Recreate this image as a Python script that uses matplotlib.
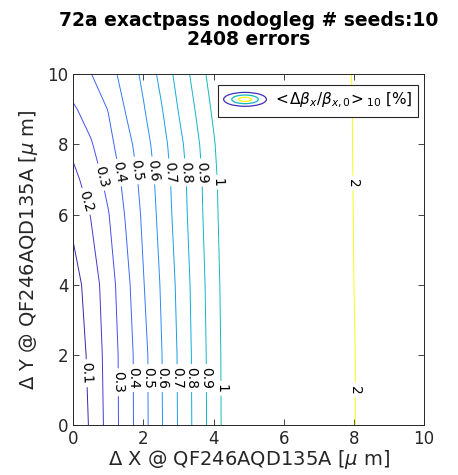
import numpy as np
import matplotlib
matplotlib.use("Agg")
import matplotlib.pyplot as plt
from matplotlib.colors import LinearSegmentedColormap
from matplotlib.legend_handler import HandlerBase
from matplotlib.patches import Ellipse
from matplotlib.lines import Line2D


# grille des offsets (micron) et valeurs (beta-beating moyen en %)
x_pos = [0, 0.5, 1, 1.5, 2, 2.5, 3, 3.5, 4, 4.5, 5, 6, 7, 8, 9, 10]
y_pos = [0, 2, 4, 6, 7, 8, 9, 10]
beat = [
    [0.000, 0.116, 0.233, 0.349, 0.467, 0.590, 0.707, 0.830, 0.947, 1.071, 1.200, 1.466, 1.730, 1.990, 2.250, 2.510],
    [0.014, 0.132, 0.236, 0.351, 0.469, 0.593, 0.710, 0.833, 0.949, 1.073, 1.204, 1.466, 1.730, 1.990, 2.250, 2.510],
    [0.057, 0.148, 0.252, 0.370, 0.495, 0.607, 0.722, 0.841, 0.956, 1.080, 1.210, 1.475, 1.740, 2.000, 2.260, 2.520],
    [0.128, 0.204, 0.295, 0.409, 0.518, 0.630, 0.743, 0.857, 0.968, 1.094, 1.225, 1.486, 1.746, 2.005, 2.270, 2.530],
    [0.174, 0.246, 0.330, 0.431, 0.534, 0.640, 0.751, 0.862, 0.974, 1.100, 1.231, 1.490, 1.750, 2.008, 2.270, 2.530],
    [0.227, 0.291, 0.370, 0.464, 0.559, 0.658, 0.770, 0.877, 0.989, 1.115, 1.243, 1.499, 1.755, 2.010, 2.270, 2.530],
    [0.288, 0.341, 0.404, 0.507, 0.592, 0.690, 0.804, 0.907, 1.018, 1.142, 1.266, 1.515, 1.764, 2.012, 2.260, 2.510],
    [0.355, 0.397, 0.464, 0.537, 0.622, 0.727, 0.835, 0.938, 1.048, 1.169, 1.290, 1.532, 1.775, 2.017, 2.260, 2.500],
]
niveaux = [0.1, 0.2, 0.3, 0.4, 0.5, 0.6, 0.7, 0.8, 0.9, 1, 2]

# positions des etiquettes (comme sur l'original)
pos_labels = [
    (0.27, 6.35), (0.81, 7.07), (1.33, 7.2), (1.84, 7.26), (2.32, 7.26), (2.75, 7.2),
    (3.18, 7.2), (3.69, 7.2), (4.06, 6.92), (8.0, 6.9),
    (0.41, 1.48), (1.31, 1.22), (1.70, 1.34), (2.13, 1.34), (2.55, 1.34), (2.97, 1.34),
    (3.38, 1.34), (3.80, 1.34), (4.22, 1.05), (8.04, 1.0),
]

titre = "72a exactpass nodogleg # seeds:10\n2408 errors"
label_x = r"$\Delta$ X @ QF246AQD135A [$\mu$ m]"
label_y = r"$\Delta$ Y @ QF246AQD135A [$\mu$ m]"
label_leg = r"$<\!\Delta\beta_x/\beta_{x,0}\!>_{10}$ [%]"

# approximation de parula (matlab)
parula = LinearSegmentedColormap.from_list("parula", [
    (0.00, (0.2422, 0.1504, 0.6603)),
    (0.11, (0.2810, 0.3228, 0.9579)),
    (0.24, (0.1786, 0.5289, 0.9682)),
    (0.37, (0.0590, 0.6838, 0.8515)),
    (0.49, (0.0815, 0.7408, 0.7219)),
    (0.62, (0.3599, 0.7928, 0.4893)),
    (0.75, (0.7364, 0.7559, 0.2702)),
    (0.87, (0.9932, 0.7439, 0.2390)),
    (1.00, (0.9769, 0.9839, 0.0805)),
])


class IconeContour(HandlerBase):
    # petite icone avec trois ellipses comme la legende matlab
    def create_artists(self, legend, orig_handle, xdescent, ydescent, width, height, fontsize, trans):
        cx = width / 2 - xdescent
        cy = height / 2 - ydescent
        couleurs = [parula(0.02), parula(0.45), parula(1.0)]
        arts = []
        for frac, c in zip([1.0, 0.62, 0.3], couleurs):
            e = Ellipse((cx, cy), width * frac, height * 1.3 * frac, fill=False,
                        edgecolor=c, lw=0.9, transform=trans)
            arts.append(e)
        return arts


fig = plt.figure(figsize=(4.58, 4.75), dpi=100)
ax = fig.add_axes([0.160, 0.105, 0.766, 0.739])

X, Y = np.meshgrid(x_pos, y_pos)
Z = np.array(beat)
cs = ax.contour(X, Y, Z, levels=niveaux, cmap=parula, vmin=0.1, vmax=2, linewidths=0.7)
ax.clabel(cs, fmt="%g", fontsize=10, colors="k", inline=True, inline_spacing=3, manual=pos_labels)

ax.set_xlim(0, 10)
ax.set_ylim(0, 10)
ax.set_xticks([0, 2, 4, 6, 8, 10])
ax.set_yticks([0, 2, 4, 6, 8, 10])
ax.tick_params(direction="in", top=True, right=True, length=4, width=0.6,
               labelsize=12, colors="#262626")
for s in ax.spines.values():
    s.set_color("#262626")
    s.set_linewidth(0.7)

ax.set_xlabel(label_x, fontsize=14, color="#262626", labelpad=0)
ax.set_ylabel(label_y, fontsize=14, color="#262626", labelpad=5)
ax.set_title(titre, fontsize=13.5, fontweight="bold", pad=21, linespacing=1.0)

h = Line2D([], [])
leg = ax.legend([h], [label_leg], handler_map={Line2D: IconeContour()}, loc="upper right",
                bbox_to_anchor=(0.983, 0.969), borderaxespad=0,
                fontsize=11, fancybox=False, edgecolor="#262626", framealpha=1,
                handlelength=2.8, borderpad=0.4, handletextpad=0.4)
leg.get_frame().set_linewidth(0.8)

fig.savefig("out.png", dpi=100)
